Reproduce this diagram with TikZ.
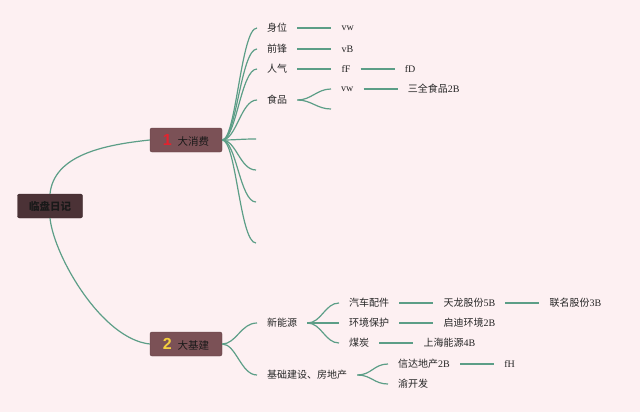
\documentclass[tikz,border=0pt]{standalone}
\usepackage{fontspec}
\setmainfont{Liberation Serif}
\newfontfamily\cjk{Noto Sans CJK SC}
\newfontfamily\numfont{Liberation Sans}
\usepackage{xcolor}
\usetikzlibrary{positioning}
\definecolor{paper}{HTML}{FDF0F2}
\definecolor{twig}{HTML}{5C9E87}
\definecolor{rootbrown}{HTML}{4B3236}
\definecolor{mainbrown}{HTML}{7B5156}
\definecolor{numred}{HTML}{E3232F}
\definecolor{numyellow}{HTML}{F4CF3E}
\tikzstyle{root} = [rectangle, rounded corners = 2pt, draw = rootbrown!80!black, fill = rootbrown, minimum width = 65pt, minimum height = 24pt, font = \cjk\bfseries\fontsize{10.5}{11}\selectfont, text = black!90]
\tikzstyle{main} = [rectangle, rounded corners = 2pt, draw = mainbrown!80!black, fill = mainbrown, minimum width = 72pt, minimum height = 24pt, font = \cjk\fontsize{10.5}{11}\selectfont, text = black!90]
\tikzstyle{leaf} = [inner xsep = 10pt, inner ysep = 2pt, font = \fontsize{10}{12}\selectfont, text = black!85]
\tikzstyle{branch} = [twig, line width = 1.2pt]
\tikzstyle{twigline} = [twig, line width = 1.2pt]
\newcommand{\numtag}[2]{{\numfont\bfseries\fontsize{16}{16}\selectfont\textcolor{#1}{#2}}\hspace{6pt}}

\begin{document}
\begin{tikzpicture}[x = 1pt, y = -1pt, node distance = 34pt]
        \path[use as bounding box, fill = paper] (0,0) rectangle (640,412);

        % draw root and main nodes
        \node[root] (diary) at (50,206) {临盘日记};
        \node[main] (spend) at (186,140) {\numtag{numred}{1}大消费};
        \node[main] (build) at (186,344) {\numtag{numyellow}{2}大基建};
        \draw[branch] (diary.north) .. controls +(4,-38) and +(-48,5) .. (spend.west);
        \draw[branch] (diary.south) .. controls +(4,38) and +(-48,-5) .. (build.west);

        % first branch
        \node[leaf, anchor = west] (pos) at (257,28) {\cjk 身位};
        \node[leaf, anchor = west] (fwd) at (257,49) {\cjk 前锋};
        \node[leaf, anchor = west] (pop) at (257,69) {\cjk 人气};
        \node[leaf, anchor = west] (food) at (257,100) {\cjk 食品};
        \coordinate (free1) at (256,139);
        \coordinate (free2) at (256,170);
        \coordinate (free3) at (256,202);
        \coordinate (free4) at (256,243);
        \foreach \t in {pos, fwd, pop, food} {
            \draw[branch] (spend.east) .. controls +(14,0) and +(-16,0) .. (\t.west);
        }
        \foreach \t in {free1, free2, free3, free4} {
            \draw[branch] (spend.east) .. controls +(14,0) and +(-16,0) .. (\t);
        }
        \node[leaf, right = of pos] (posvw) {vw};
        \node[leaf, right = of fwd] (fwdvb) {vB};
        \node[leaf, right = of pop] (popff) {fF};
        \node[leaf, right = of popff] (popfd) {fD};
        \node[leaf, anchor = west] (foodvw) at (331,89) {vw};
        \coordinate (foodfree) at (331,109);
        \node[leaf, right = of foodvw] (sanquan) {{\cjk 三全食品}2B};
        \draw[twigline] (pos.east) -- (posvw.west);
        \draw[twigline] (fwd.east) -- (fwdvb.west);
        \draw[twigline] (pop.east) -- (popff.west);
        \draw[twigline] (popff.east) -- (popfd.west);
        \draw[twigline] (food.east) .. controls +(14,0) and +(-14,0) .. (foodvw.west);
        \draw[twigline] (food.east) .. controls +(14,0) and +(-14,0) .. (foodfree);
        \draw[twigline] (foodvw.east) -- (sanquan.west);

        % second branch
        \node[leaf, anchor = west] (energy) at (257,323) {\cjk 新能源};
        \node[leaf, anchor = west] (infra) at (257,375) {\cjk 基础建设、房地产};
        \draw[branch] (build.east) .. controls +(14,0) and +(-16,0) .. (energy.west);
        \draw[branch] (build.east) .. controls +(14,0) and +(-16,0) .. (infra.west);
        \node[leaf, anchor = west] (auto) at (339,303) {\cjk 汽车配件};
        \node[leaf, anchor = west] (env) at (339,323) {\cjk 环境保护};
        \node[leaf, anchor = west] (coal) at (339,343) {\cjk 煤炭};
        \foreach \t in {auto, env, coal} {
            \draw[twigline] (energy.east) .. controls +(14,0) and +(-14,0) .. (\t.west);
        }
        \node[leaf, right = of auto] (tianlong) {{\cjk 天龙股份}5B};
        \node[leaf, right = of tianlong] (lianming) {{\cjk 联名股份}3B};
        \node[leaf, right = of env] (qidi) {{\cjk 启迪环境}2B};
        \node[leaf, right = of coal] (shanghai) {{\cjk 上海能源}4B};
        \draw[twigline] (auto.east) -- (tianlong.west);
        \draw[twigline] (tianlong.east) -- (lianming.west);
        \draw[twigline] (env.east) -- (qidi.west);
        \draw[twigline] (coal.east) -- (shanghai.west);
        \node[leaf, anchor = west] (xinda) at (388,364) {{\cjk 信达地产}2B};
        \node[leaf, anchor = west] (yukai) at (388,384) {\cjk 渝开发};
        \draw[twigline] (infra.east) .. controls +(14,0) and +(-14,0) .. (xinda.west);
        \draw[twigline] (infra.east) .. controls +(14,0) and +(-14,0) .. (yukai.west);
        \node[leaf, right = of xinda] (xindafh) {fH};
        \draw[twigline] (xinda.east) -- (xindafh.west);
    \end{tikzpicture}
\end{document}
